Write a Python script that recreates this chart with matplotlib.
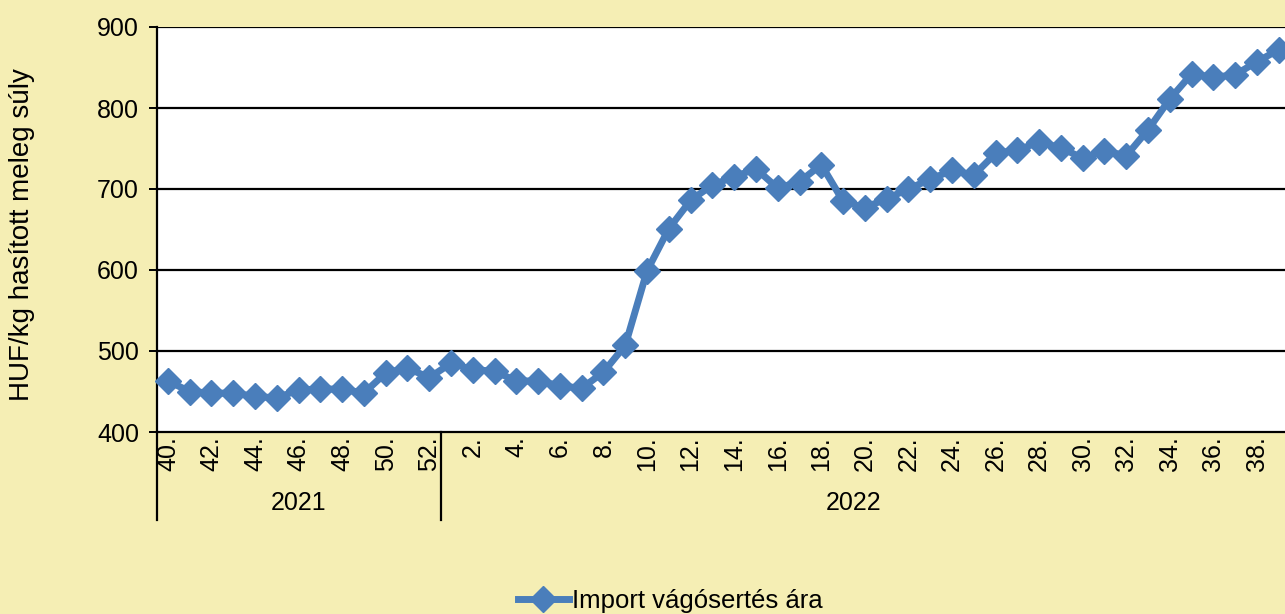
import matplotlib.pyplot as plt
import matplotlib.lines as mlines

plt.rcParams['font.family'] = ['Liberation Sans', 'DejaVu Sans']

weeks_2021 = list(range(40, 53))
weeks_2022 = list(range(1, 40))
prices = [463, 450, 448, 448, 444, 442, 452, 453, 453, 448, 473, 479, 467,
          485, 477, 475, 463, 463, 457, 454, 474, 507, 599, 651, 686, 705,
          715, 725, 701, 709, 730, 685, 677, 688, 700, 712, 723, 717, 744,
          748, 758, 751, 738, 747, 741, 773, 811, 842, 838, 841, 857, 872]
years = ['2021', '2022']
series_name = 'Import vágósertés ára'

weeks = weeks_2021 + weeks_2022
x = list(range(len(weeks)))

W, H = 1285, 614
fig = plt.figure(figsize=(W / 100, H / 100), dpi=100, facecolor='#F5EEB4')
ax = fig.add_axes([157 / W, 1 - 432 / H, (1290 - 157) / W, (432 - 27) / H])
ax.set_facecolor('white')

for yv in range(500, 901, 100):
    ax.axhline(yv, color='black', lw=1.6, zorder=1)

ax.plot(x, prices, color='#4A7EBB', lw=5, marker='D', ms=13,
        zorder=3, clip_on=False)

ax.set_xlim(-0.5, len(weeks) - 0.5 + 0.02)
ax.set_ylim(400, 900)
ax.set_yticks(range(400, 901, 100))
ax.tick_params(axis='y', labelsize=18, length=6, width=1.4, pad=7)

tick_pos = [i for i, w in enumerate(weeks) if w % 2 == 0]
ax.set_xticks(tick_pos)
ax.set_xticklabels([f'{weeks[i]}.' for i in tick_pos], rotation=90,
                   fontsize=18)
ax.tick_params(axis='x', length=0, pad=3)

for s in ['top', 'right']:
    ax.spines[s].set_visible(False)
ax.spines['left'].set_linewidth(1.6)
ax.spines['bottom'].set_linewidth(1.6)

# year group separators
n21 = len(weeks_2021)
trans = ax.get_xaxis_transform()
sep_y0 = 0
sep_y1 = -(520 - 432) / (432 - 27)
for xs in [-0.5, n21 - 0.5 + 0.02]:
    ax.add_line(mlines.Line2D([xs, xs], [sep_y0, sep_y1], transform=trans,
                              color='black', lw=1.6, clip_on=False))
ylab = -(503 - 432) / (432 - 27)
ax.text((n21 - 1) / 2, ylab, years[0], transform=trans, ha='center',
        va='center', fontsize=18)
ax.text(n21 + (len(weeks_2022) - 1) / 2 - 0.5, ylab, years[1], transform=trans,
        ha='center', va='center', fontsize=18)

fig.text(22 / W, 1 - 235 / H, 'HUF/kg hasított meleg súly', rotation=90,
         ha='center', va='center', fontsize=20)

handle = mlines.Line2D([], [], color='#4A7EBB', lw=5, marker='D', ms=13)
fig.legend([handle], [series_name], loc='center', bbox_to_anchor=(670 / W, 1 - 601 / H),
           frameon=False, fontsize=18.5, handlelength=2.0, handletextpad=0.1)

fig.savefig('out.png', dpi=100, facecolor=fig.get_facecolor())
